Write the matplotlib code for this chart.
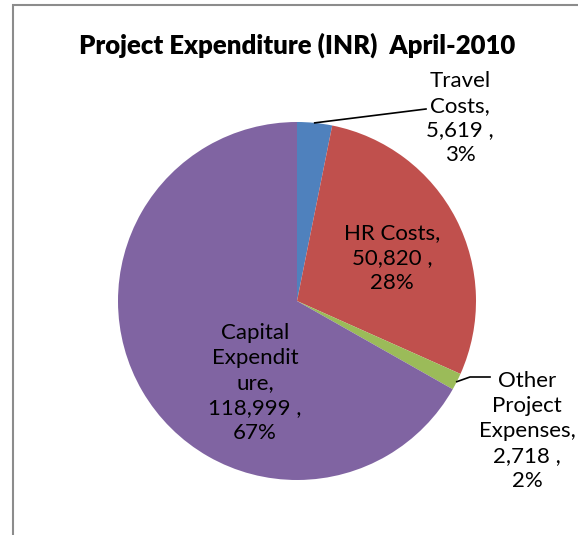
import numpy as np
import matplotlib
matplotlib.use("Agg")
import matplotlib.pyplot as plt
from matplotlib.patches import Rectangle

# === DATA ===
names = ["Travel\nCosts", "HR Costs", "Other\nProject\nExpenses", "Capital\nExpendit\nure"]
values = [5619, 50820, 2718, 118999]
pct_labels = ["3%", "28%", "2%", "67%"]
colors = ["#4F81BD", "#C0504D", "#9BBB59", "#8064A2"]
title = "Project Expenditure (INR)  April-2010"

W, H = 578, 535
plt.rcParams['font.family'] = ['Lato', 'DejaVu Sans']

fig = plt.figure(figsize=(W / 100, H / 100), dpi=100)
ax = fig.add_axes([0, 0, 1, 1])

# pie geometry in pixel coords (y measured from top of image)
cx, cy, r = 297, 301, 179

def py(y):
    return H - y

wedges, _ = ax.pie(values, colors=colors, startangle=90, counterclock=False,
                   center=(cx, py(cy)), radius=r, frame=True,
                   wedgeprops=dict(linewidth=0))

ax.set_xlim(0, W)
ax.set_ylim(0, H)
ax.axis('off')

# outer frame (cropped on right/bottom)
ax.add_patch(Rectangle((12.5, -50), 700, py(4.5) + 50, fill=False,
                       edgecolor="#8c8c8c", linewidth=1.5, clip_on=False))

ax.text(297, py(45), title, ha='center', va='center', fontsize=18.5,
        fontweight='heavy')

labels = [f"{n},\n{v:,} ,\n{p}" for n, v, p in zip(names, values, pct_labels)]
label_pos = [(460, 118), (392, 258), (527, 431), (255, 383)]

for lab, (lx, ly) in zip(labels, label_pos):
    ax.text(lx, py(ly), lab, ha='center', va='center', fontsize=16,
            linespacing=1.3)

# leader lines from wedge middles to outside labels
def edge_point(i):
    w = wedges[i]
    a = np.deg2rad((w.theta1 + w.theta2) / 2)
    return cx + r * np.cos(a), py(cy) + r * np.sin(a)

x0, y0 = edge_point(0)
ax.plot([x0, 426], [y0, py(109)], color='black', lw=1.2)
x0, y0 = edge_point(2)
ax.plot([x0, 470, 490], [y0, py(377), py(377)], color='black', lw=1.2)

fig.savefig("out.png", dpi=100)
